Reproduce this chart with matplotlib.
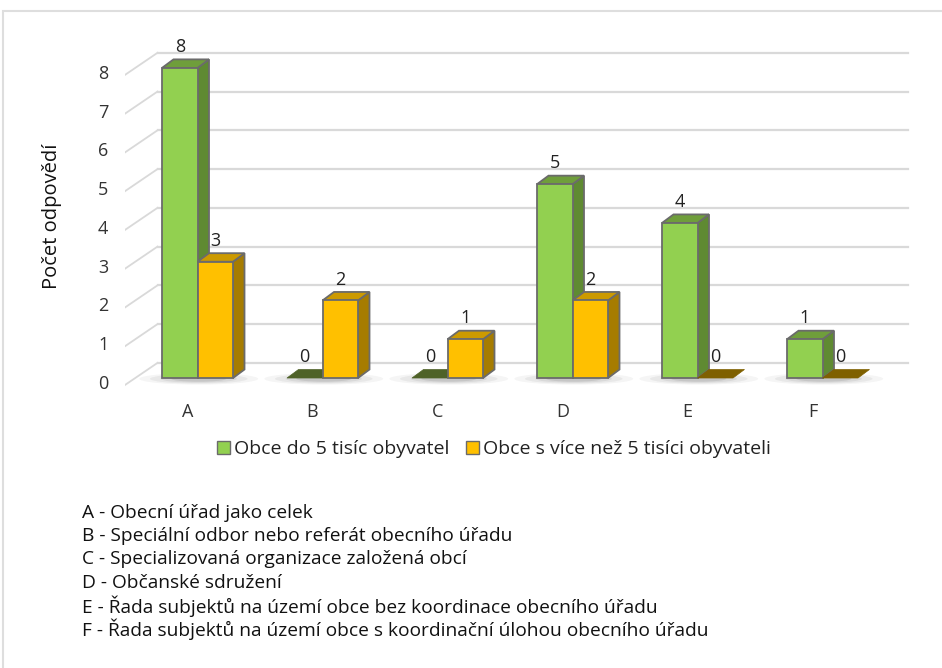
import matplotlib
matplotlib.use("Agg")
import matplotlib.pyplot as plt
from matplotlib.patches import Polygon, Patch, Rectangle, Ellipse
from matplotlib.transforms import ScaledTranslation

categories = ["A", "B", "C", "D", "E", "F"]
small_towns = [8, 0, 0, 5, 4, 1]
large_towns = [3, 2, 1, 2, 0, 0]
series_names = ["Obce do 5 tisíc obyvatel", "Obce s více než 5 tisíci obyvateli"]
notes = [
    "A - Obecní úřad jako celek",
    "B - Speciální odbor nebo referát obecního úřadu",
    "C - Specializovaná organizace založená obcí",
    "D - Občanské sdružení",
    "E - Řada subjektů na území obce bez koordinace obecního úřadu",
    "F - Řada subjektů na území obce s koordinační úlohou obecního úřadu",
]

plt.rcParams["font.family"] = ["Open Sans", "DejaVu Sans"]
W, H = 942, 668
fig = plt.figure(figsize=(W / 100, H / 100), dpi=100)


def fx(px):
    return px / W


def fy(py):
    return 1 - py / H


# light frame around the chart
fig.patches.append(Rectangle((fx(3), fy(H + 20)), 1.2, fy(11) - fy(H + 20),
                             transform=fig.transFigure, fill=False,
                             edgecolor="#dedede", lw=1.5))

ax = fig.add_axes([fx(125), fy(392), fx(910) - fx(125), fy(40) - fy(392)])
ax.set_xlim(-0.5, 5.78)
ax.set_ylim(-0.361, 8.72)
for s in ax.spines.values():
    s.set_visible(False)
ax.patch.set_alpha(0)

bw = 0.284     # bar width (data)
ddx = 0.092    # depth in x (data)
ddy = 0.22     # depth in y (data)

# back wall grid + left wall diagonals
back = ax.transData + ScaledTranslation(0.0, 0.15, fig.dpi_scale_trans)
for v in range(9):
    ax.plot([-0.24, 5.76], [v, v], color="#d9d9d9", lw=1.6, transform=back, zorder=0)
    ax.plot([-0.5, -0.24], [v - 0.18, v + 0.39], color="#d9d9d9", lw=1.3, zorder=0)

# soft floor shadows
for i in range(len(categories)):
    for k, a in enumerate([0.06, 0.08, 0.1, 0.14]):
        ax.add_patch(Ellipse((i + 0.09, -0.02), 0.95 - k * 0.17, 0.3 - k * 0.05,
                             color="#555555", alpha=a, lw=0, zorder=1))

faces = [
    ("#92d050", "#6f9e3b", "#5f8a32", "#4f6228"),
    ("#ffc000", "#cc9a00", "#a67c00", "#7f6000"),
]
edge = "#6b6b6b"

for s, vals in enumerate([small_towns, large_towns]):
    front, top, side, flat = faces[s]
    for i, h in enumerate(vals):
        x0 = i - 0.204 + s * bw
        x1 = x0 + bw
        z = 2 + s * 3
        if h == 0:
            ax.add_patch(Polygon([(x0, 0), (x1, 0), (x1 + ddx, ddy), (x0 + ddx, ddy)],
                                 closed=True, facecolor=flat, edgecolor=flat, lw=0.5, zorder=z))
        else:
            ax.bar(x0, h, width=bw, align="edge", color=front, edgecolor=edge,
                   lw=1.3, zorder=z + 1)
            ax.add_patch(Polygon([(x1, 0), (x1 + ddx, ddy), (x1 + ddx, h + ddy), (x1, h)],
                                 closed=True, facecolor=side, edgecolor=edge, lw=1.3, zorder=z))
            ax.add_patch(Polygon([(x0, h), (x1, h), (x1 + ddx, h + ddy), (x0 + ddx, h + ddy)],
                                 closed=True, facecolor=top, edgecolor=edge, lw=1.3, zorder=z))
        ax.annotate(str(h), (x0 + bw / 2, h), xytext=(0, 15), textcoords="offset points",
                    ha="center", va="center", fontsize=13, color="#222222", zorder=10)

ax.set_xticks(range(len(categories)))
ax.set_xticklabels(categories, fontsize=13, color="#333333")
ax.set_yticks(range(9))
ax.set_yticklabels([str(v) for v in range(9)], fontsize=13, color="#333333")
ax.tick_params(axis="y", length=0, pad=12)
ax.tick_params(axis="x", length=0, pad=8)
for lab in ax.get_yticklabels():
    lab.set_transform(lab.get_transform() + ScaledTranslation(0, -0.04, fig.dpi_scale_trans))
ax.set_ylabel("Počet odpovědí", fontsize=14.5, color="#111111")
ax.yaxis.set_label_coords((62 - 125) / 785, 0.5)

handles = [Patch(facecolor=faces[k][0], edgecolor=edge, lw=1.0) for k in range(2)]
fig.legend(handles, series_names, loc="center", bbox_to_anchor=(fx(494), fy(449)),
           ncol=2, frameon=False, fontsize=14, handlelength=0.65, handleheight=0.65,
           handletextpad=0.2, columnspacing=0.9, labelcolor="#222222")

for k, line in enumerate(notes):
    fig.text(fx(82), fy(513 + k * 23.2), line, fontsize=13.8, color="#111111",
             ha="left", va="center")

fig.savefig("out.png", dpi=100)
